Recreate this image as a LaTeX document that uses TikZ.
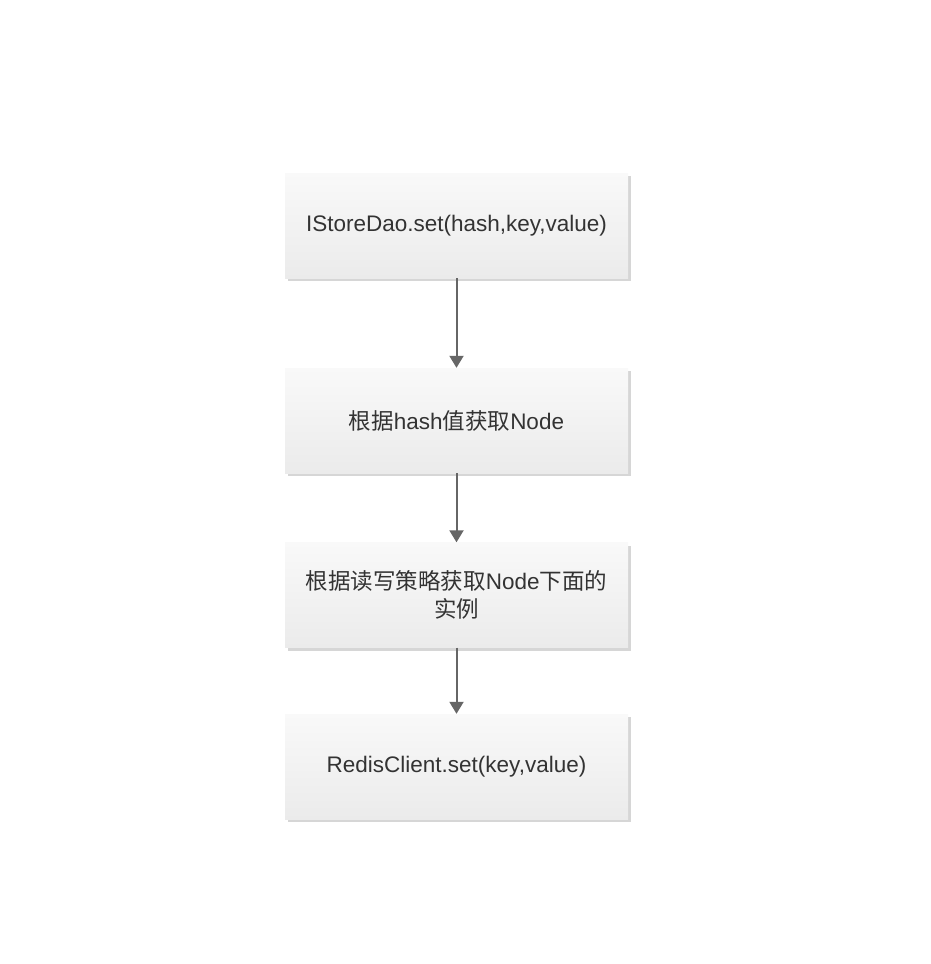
\documentclass[tikz,border=0pt]{standalone}
\usepackage{fontspec}
\setmainfont{Liberation Sans}
\newfontfamily\cjk{Noto Sans CJK SC}
\usetikzlibrary{arrows.meta,shadows}
\definecolor{txt}{HTML}{333333}
\definecolor{boxtop}{HTML}{F9F9F9}
\definecolor{boxbot}{HTML}{EBEBEB}
\definecolor{shd}{HTML}{D6D6D6}
\definecolor{arrc}{HTML}{666666}
\begin{document}
\begin{tikzpicture}[x=1pt,y=-1pt]
\useasboundingbox (0,0) rectangle (930,964);
\tikzset{
  box/.style={rectangle, minimum width=343pt, minimum height=105pt, inner sep=0pt,
    top color=boxtop, bottom color=boxbot, draw=none, text=txt, align=center,
    font=\fontsize{22.5}{28}\selectfont,
    drop shadow={shadow xshift=3pt, shadow yshift=-3pt, fill=shd, opacity=1}},
  arr/.style={draw=arrc, line width=2pt, -{Triangle[width=14pt,length=12pt]}}
}
\node[box] (b1) at (456.5,225.5) {\raisebox{-2pt}{IStoreDao.set(hash,key,value)}};
\node[box] (b2) at (456.5,420.5) {{\cjk 根据}hash{\cjk 值获取}Node};
\node[box] (b3) at (456.5,595) {{\cjk 根据读写策略获取}Node{\cjk 下面的}\\{\cjk 实例}};
\node[box] (b4) at (456.5,766.5) {\raisebox{-2pt}{RedisClient.set(key,value)}};
\draw[arr] (b1) -- (b2);
\draw[arr] (b2) -- (b3);
\draw[arr] (b3) -- (b4);
\end{tikzpicture}
\end{document}
